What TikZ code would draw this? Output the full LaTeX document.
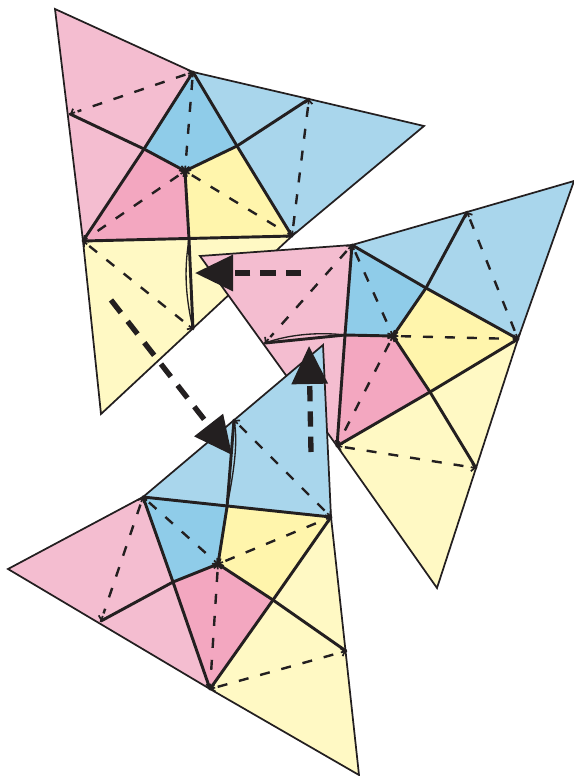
\documentclass[tikz,border=0pt]{standalone}
\usetikzlibrary{arrows.meta,calc}
\definecolor{inkc}{HTML}{231F20}
\definecolor{pinkl}{HTML}{F4BDD0}
\definecolor{pinkd}{HTML}{F3A7C0}
\definecolor{bluel}{HTML}{A9D6EC}
\definecolor{blued}{HTML}{8FCCE9}
\definecolor{yeld}{HTML}{FFF5AC}
\definecolor{yell}{HTML}{FFF9C4}
\tikzset{
  outer/.style={draw=inkc,line width=1.3pt,line join=miter},
  crease/.style={draw=inkc,line width=2.2pt,line cap=round},
  thincrease/.style={draw=inkc,line width=1pt},
  dashcrease/.style={draw=inkc,line width=1.8pt,dash pattern=on 7.5pt off 9pt},
  barb/.style={draw=inkc,line width=1.3pt,-{Straight Barb[length=2.6pt,width=6pt,line width=1.3pt]}},
  bigarrow/.style={draw=inkc,line width=4pt,-{Triangle[length=28.5pt,width=26.5pt,fill=inkc]}},
}
\newcommand{\foldline}[2]{%
  \draw[dashcrease] ($(#1)!6pt!(#2)$)--($(#2)!6pt!(#1)$);
  \draw[barb] ($(#1)!4pt!(#2)$)--(#1);
  \draw[barb] ($(#2)!4pt!(#1)$)--(#2);
}
\begin{document}
\begin{tikzpicture}[x=0.75pt,y=-0.75pt]
\useasboundingbox (0,0) rectangle (574,776);
% ---------- top piece
\coordinate (a1) at (55,9);
\coordinate (a2) at (193,72);
\coordinate (a3) at (70,114);
\coordinate (a4) at (83,241);
\coordinate (a5) at (144,149);
\coordinate (a6) at (185,171);
\coordinate (a7) at (237,146);
\coordinate (a8) at (309,99);
\coordinate (a9) at (424,126);
\coordinate (a10) at (292,236);
\coordinate (a11) at (189,239);
\coordinate (a12) at (193,329);
\coordinate (a13) at (101,414);
\fill[pinkl] (a1)--(a2)--(a5)--(a4)--cycle;
\fill[pinkd] (a5)--(a6)--(a11)--(a4)--cycle;
\fill[blued] (a2)--(a7)--(a6)--(a5)--cycle;
\fill[yeld] (a6)--(a7)--(a10)--(a11)--cycle;
\fill[bluel] (a2)--(a8)--(a9)--(a10)--(a7)--cycle;
\fill[yell] (a4)--(a10)--(a13)--cycle;
\draw[outer] (a1)--(a2)--(a8)--(a9)--(a10)--(a13)--(a4)--cycle;
\draw[crease] (a3)--(a5)--(a6)--(a7)--(a8);
\draw[crease] (a2)--(a5)--(a4);
\draw[crease] (a2)--(a7)--(a10);
\draw[crease] (a6)--(a11);
\draw[crease] (a4)--(a10);
\draw[crease] (a11)--(a12);
\draw[thincrease] (a11) .. controls (185,265) and (184,290) .. (a12);
\foldline{a2}{a3}
\foldline{a2}{a6}
\foldline{a6}{a4}
\foldline{a6}{a10}
\foldline{a8}{a10}
\foldline{a4}{a12}
% ---------- right piece
\coordinate (b1) at (200,256);
\coordinate (b2) at (352,245);
\coordinate (b3) at (467,212);
\coordinate (b4) at (574,181);
\coordinate (b5) at (518,339);
\coordinate (b6) at (426,288);
\coordinate (b7) at (393,336);
\coordinate (b8) at (345,335);
\coordinate (b9) at (430,392);
\coordinate (b10) at (337,446);
\coordinate (b11) at (476,468);
\coordinate (b12) at (437,588);
\coordinate (b13) at (265,343);
\fill[pinkl] (b1)--(b2)--(b8)--(b10)--cycle;
\fill[pinkd] (b8)--(b7)--(b9)--(b10)--cycle;
\fill[blued] (b2)--(b6)--(b7)--(b8)--cycle;
\fill[yeld] (b7)--(b6)--(b5)--(b9)--cycle;
\fill[bluel] (b2)--(b3)--(b4)--(b5)--(b6)--cycle;
\fill[yell] (b10)--(b5)--(b12)--cycle;
\draw[outer] (b1)--(b2)--(b3)--(b4)--(b5)--(b12)--(b10)--cycle;
\draw[crease] (b2)--(b8)--(b10);
\draw[crease] (b13)--(b8)--(b7)--(b9)--(b11);
\draw[thincrease] (b13) .. controls (290,334) and (320,332) .. (b8);
\draw[crease] (b3)--(b6)--(b7);
\draw[crease] (b2)--(b6)--(b5);
\draw[crease] (b10)--(b9)--(b5);
\foldline{b2}{b13}
\foldline{b2}{b7}
\foldline{b7}{b10}
\foldline{b7}{b5}
\foldline{b3}{b5}
\foldline{b10}{b11}
% ---------- bottom piece
\coordinate (c1) at (143,497);
\coordinate (c2) at (234,420);
\coordinate (c3) at (323,345);
\coordinate (c4) at (331,517);
\coordinate (c5) at (227,507);
\coordinate (c6) at (218,564);
\coordinate (c7) at (173,582);
\coordinate (c8) at (8,569);
\coordinate (c9) at (101,621);
\coordinate (c10) at (210,689);
\coordinate (c11) at (273,600);
\coordinate (c12) at (346,651);
\coordinate (c13) at (359,775);
\fill[pinkl] (c1)--(c7)--(c10)--(c8)--cycle;
\fill[pinkd] (c7)--(c6)--(c11)--(c10)--cycle;
\fill[blued] (c1)--(c5)--(c6)--(c7)--cycle;
\fill[yeld] (c5)--(c4)--(c11)--(c6)--cycle;
\fill[bluel] (c1)--(c3)--(c4)--cycle;
\fill[yell] (c10)--(c4)--(c13)--cycle;
\draw[outer] (c1)--(c3)--(c4)--(c13)--(c10)--(c8)--cycle;
\draw[crease] (c1)--(c4);
\draw[crease] (c2)--(c5)--(c6)--(c11)--(c12);
\draw[thincrease] (c2) .. controls (239,445) and (232,480) .. (c5);
\draw[crease] (c9)--(c7)--(c6);
\draw[crease] (c1)--(c7)--(c10);
\draw[crease] (c10)--(c11)--(c4);
\foldline{c1}{c9}
\foldline{c1}{c6}
\foldline{c6}{c4}
\foldline{c6}{c10}
\foldline{c2}{c4}
\foldline{c10}{c12}
% ---------- big dashed arrows
\coordinate (p1s) at (301,273);
\coordinate (p1e) at (195,273);
\coordinate (p2s) at (311,452);
\coordinate (p2e) at (309,346);
\coordinate (p3s) at (111,300);
\coordinate (p3e) at (232,455);
\draw[bigarrow,dash pattern=on 11.5pt off 7.5pt] (p1s)--(p1e);
\draw[bigarrow,dash pattern=on 11.5pt off 7.5pt] (p2s)--(p2e);
\draw[bigarrow,dash pattern=on 12pt off 8.3pt] (p3s)--(p3e);
\end{tikzpicture}
\end{document}
